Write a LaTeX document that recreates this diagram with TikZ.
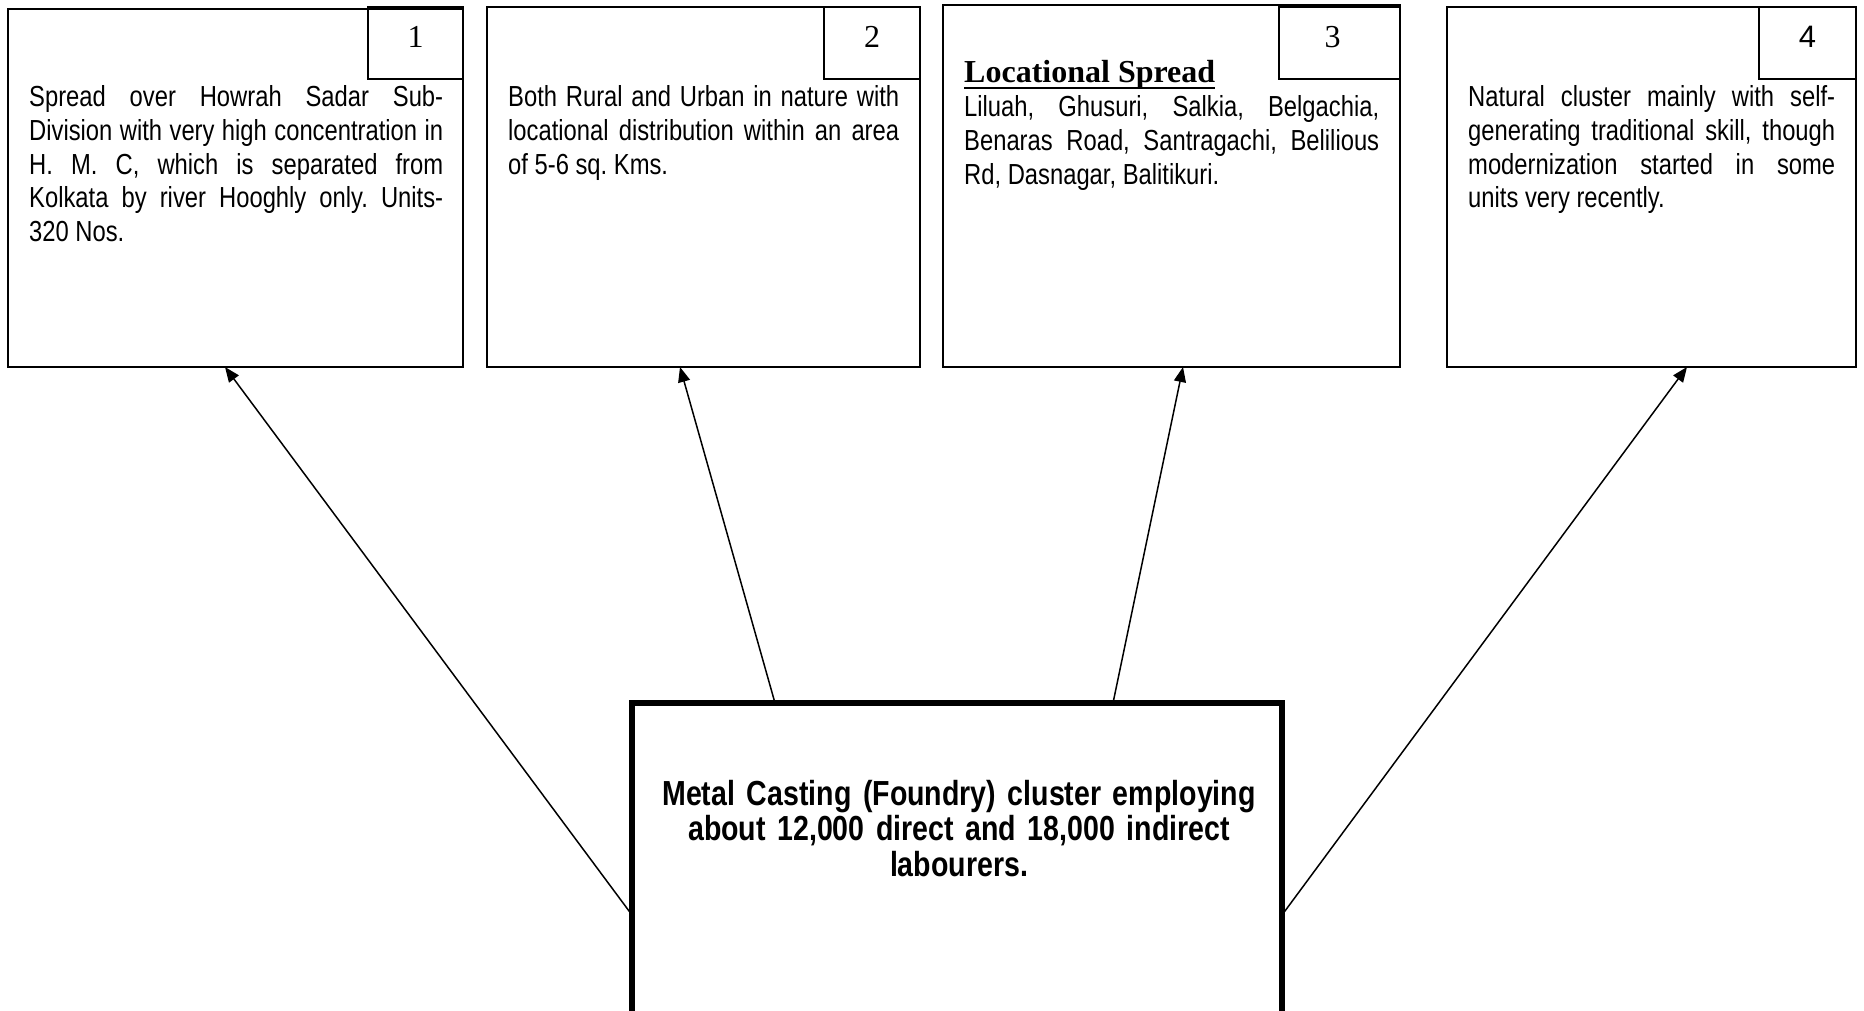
\documentclass[tikz,border=0pt]{standalone}
\usepackage{fontspec}
\usetikzlibrary{arrows.meta}
\setmainfont{Liberation Serif}
\newfontfamily\narrowfont[FakeStretch=0.82]{Liberation Sans}
\newfontfamily\plainsans{Liberation Sans}
\hyphenpenalty=10000
\hbadness=10000
\frenchspacing
\begin{document}
\begin{tikzpicture}[x=1pt,y=-1pt,
  infobox/.style={draw, line width=2pt, rectangle, outer sep=0pt, inner sep=0pt, anchor=north west},
  numbox/.style={draw, line width=2pt, rectangle, outer sep=0pt, inner sep=0pt,
    minimum height=72pt, anchor=north east},
  numtext/.style={anchor=base, inner sep=0pt, font=\fontsize{32}{36}\selectfont},
  bodytext/.style={anchor=base west, inner sep=0pt, align=justify,
    font=\narrowfont\fontsize{29}{33.6}\selectfont},
  conn/.style={line width=1.5pt, -{Triangle[length=15pt,width=12pt]}}
]
\useasboundingbox (0,0) rectangle (1864,1011);

% four description boxes along the top
\node[infobox, minimum width=455pt, minimum height=358pt] (b1) at (8,9) {};
\node[infobox, minimum width=433pt, minimum height=360pt] (b2) at (487,7) {};
\node[infobox, minimum width=457pt, minimum height=362pt] (b3) at (943,5) {};
\node[infobox, minimum width=409pt, minimum height=360pt] (b4) at (1447,7) {};

% numbered tabs in the top right corners
\node[numbox, minimum width=95pt] (n1) at (463,7) {};
\node[numbox, minimum width=96pt] (n2) at (b2.north east) {};
\node[numbox, minimum width=121pt] (n3) at (1400,7) {};
\node[numbox, minimum width=97pt] (n4) at (b4.north east) {};

\node[numtext] (d1) at ([yshift=-5pt]n1.center) {1};
\node[numtext] (d2) at ([yshift=-5pt]n2.center) {2};
\node[numtext] (d3) at ([xshift=-7pt,yshift=-5pt]n3.center) {3};
\node[numtext, font=\plainsans\fontsize{31}{36}\selectfont] (d4) at ([yshift=-5pt]n4.center) {4};

% box texts
\node[bodytext, text width=414pt] (t1) at (29,107)
  {Spread over Howrah Sadar Sub-\linebreak Division with very high concentration in\linebreak
   H. M. C, which is separated from\linebreak Kolkata by river Hooghly only. Units-\linebreak 320 Nos.};
\node[bodytext, text width=391pt] (t2) at (508,107)
  {Both Rural and Urban in nature with\linebreak locational distribution within an area\linebreak of 5-6 sq. Kms.};
\node[anchor=base west, inner sep=0pt, font=\bfseries\fontsize{32}{36}\selectfont] (h3) at (964,83)
  {Locational Spread};
\draw[line width=2.4pt] ([yshift=-5pt]h3.base west) -- ([yshift=-5pt]h3.base east);
\node[bodytext, text width=415pt] (t3) at (964,117)
  {Liluah, Ghusuri, Salkia, Belgachia,\linebreak Benaras Road, Santragachi, Belilious\linebreak Rd, Dasnagar, Balitikuri.};
\node[bodytext, text width=367pt] (t4) at (1468,107)
  {Natural cluster mainly with self-\linebreak generating traditional skill, though\linebreak modernization started in some\linebreak units very recently.};

% central cluster box, running off the lower edge
\node[draw, line width=6pt, rectangle, outer sep=0pt, inner sep=0pt, anchor=north west,
      minimum width=650pt, minimum height=340pt] (hub) at (632,703) {};
\node[anchor=base, inner sep=0pt, text width=640pt, align=center,
      font=\narrowfont\bfseries\fontsize{34.8}{35.7}\selectfont] (hubtext) at (959,805)
  {Metal Casting (Foundry) cluster employing\\ about 12,000 direct and 18,000 indirect\\ labourers.};

% connectors from the cluster to each box
\draw[conn] ([yshift=-212pt]hub.north west) -- ([xshift=217pt]b1.south west);
\draw[conn] ([xshift=143pt]hub.north west) -- ([xshift=193pt]b2.south west);
\draw[conn] ([xshift=481pt]hub.north west) -- ([xshift=240pt]b3.south west);
\draw[conn] ([yshift=-212pt]hub.north east) -- ([xshift=240pt]b4.south west);
\end{tikzpicture}
\end{document}
